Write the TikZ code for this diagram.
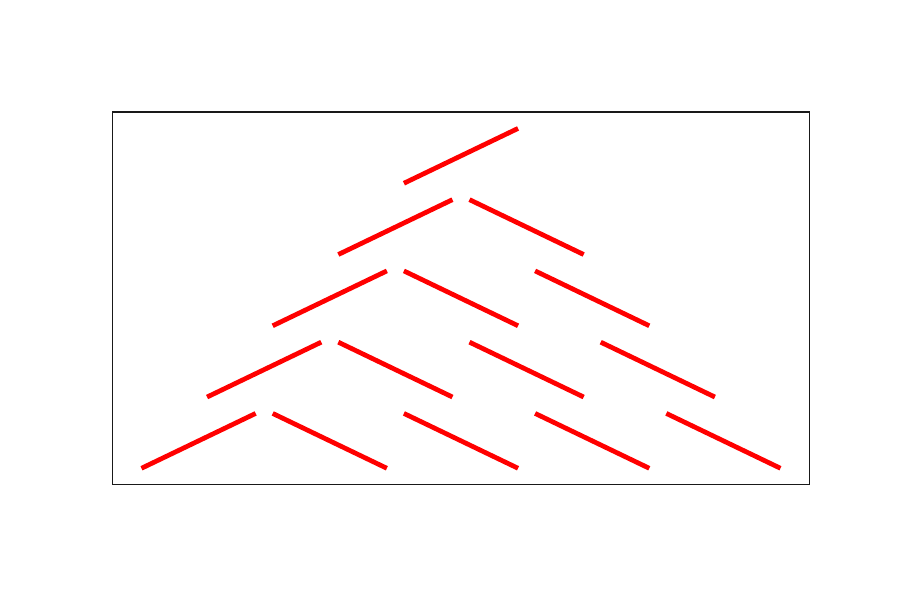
\documentclass[tikz,border=0pt]{standalone}
\usetikzlibrary{positioning}
\tikzset{seg/.style={draw=red,line width=2.7pt},
  frame/.style={draw=black!90,line width=1pt}}
\begin{document}
\begin{tikzpicture}[x=1.312cm,y=1.425cm]
  \useasboundingbox (-7.027,1.782) rectangle (6.692,-6.639);
  \draw[frame] (-5.312,0.2105) rectangle (5.312,-5.018);
  % rising stroke at the left of each row
  \foreach \r in {0,...,4}{
    \draw[seg] ({-\r-0.87},{-\r-0.79}) -- ({-\r+0.87},{-\r-0.02});
  }
  % falling strokes
  \foreach \r in {1,...,4}{
    \foreach \k in {1,...,\r}{
      \draw[seg] ({-\r+2*\k-0.87},{-\r-0.02}) -- ({-\r+2*\k+0.87},{-\r-0.79});
    }
  }
\end{tikzpicture}
\end{document}
